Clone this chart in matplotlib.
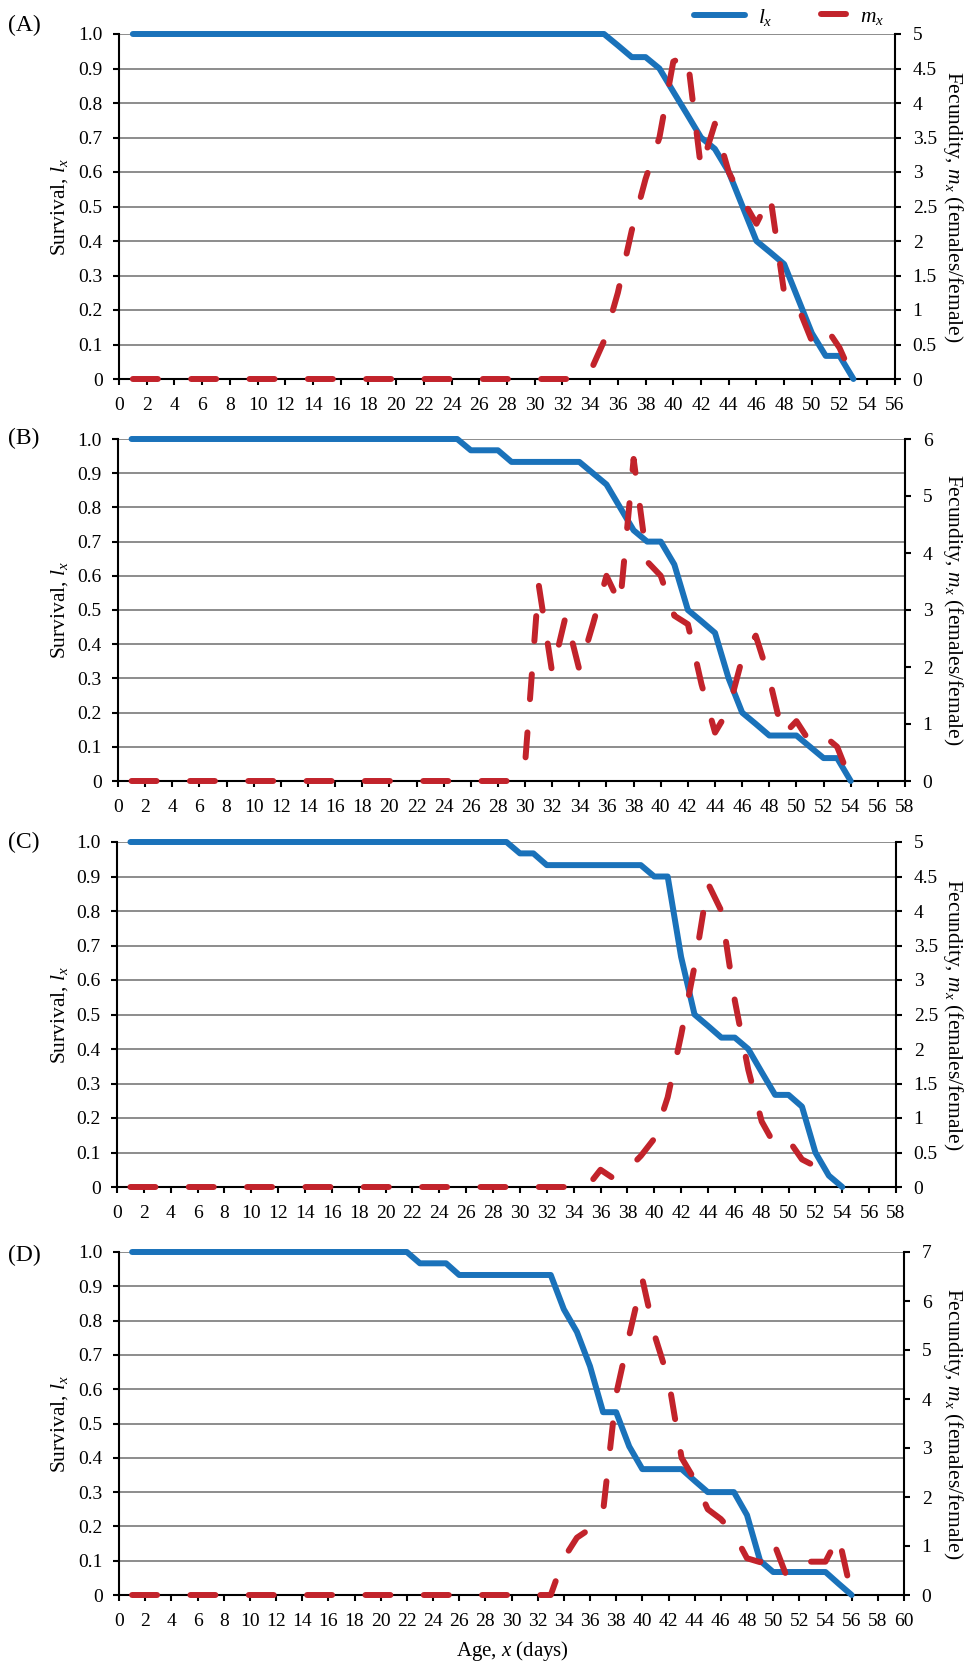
import numpy as np
import matplotlib.pyplot as plt
from matplotlib.lines import Line2D

plt.rcParams['font.family'] = 'Liberation Serif'
plt.rcParams['mathtext.fontset'] = 'custom'
plt.rcParams['mathtext.rm'] = 'Liberation Serif'
plt.rcParams['mathtext.it'] = 'Liberation Serif:italic'
plt.rcParams['lines.scale_dashes'] = False

# ---- data: survival lx (left axis) and fecundity mx (right axis) by age in days
days_a = np.arange(1, 54)
lx_a = [1.0] * 35 + [0.967, 0.933, 0.933, 0.9, 0.833, 0.767, 0.7, 0.667, 0.6, 0.5,
                     0.4, 0.367, 0.333, 0.233, 0.133, 0.067, 0.067, 0.0]
mx_a = [0.0] * 33 + [0.1, 0.55, 1.25, 2.15, 2.9, 3.5, 4.6, 4.7, 3.05, 3.7,
                     3.0, 2.6, 2.25, 2.65, 1.25, 1.05, 0.55, 0.75, 0.45, 0.0]

days_b = np.arange(1, 55)
lx_b = [1.0] * 25 + [0.967] * 3 + [0.933] * 6 + [0.9, 0.867, 0.8, 0.733, 0.7, 0.7, 0.633,
                                                 0.5, 0.467, 0.433, 0.3, 0.2, 0.167, 0.133,
                                                 0.133, 0.133, 0.1, 0.067, 0.067, 0.0]
mx_b = [0.0] * 29 + [0.3, 3.45, 1.9, 2.9, 1.95, 2.75, 3.6, 3.1, 5.65, 3.85, 3.6, 2.9,
                     2.75, 1.7, 0.85, 1.25, 2.15, 2.55, 1.8, 0.8, 1.05, 0.68, 0.8, 0.6, 0.0]

days_c = np.arange(1, 55)
days_c_m = np.arange(1, 54)
lx_c = [1.0] * 29 + [0.967, 0.967] + [0.933] * 8 + [0.9, 0.9, 0.667, 0.5, 0.467, 0.433, 0.433,
                                                    0.4, 0.333, 0.267, 0.267, 0.233, 0.1,
                                                    0.033, 0.0]
mx_c = [0.0] * 35 + [0.25, 0.12, 0.25, 0.45, 0.7, 1.3, 2.2, 3.2, 4.4, 4.0, 2.7, 1.7,
                     0.95, 0.6, 0.68, 0.4, 0.3, 0.0]

days_d = np.arange(1, 57)
lx_d = [1.0] * 22 + [0.967] * 3 + [0.933] * 8 + [0.833, 0.767, 0.667, 0.533, 0.533, 0.433,
                                                0.367, 0.367, 0.367, 0.367, 0.333, 0.3, 0.3,
                                                0.3, 0.233, 0.1, 0.067, 0.067, 0.067, 0.067,
                                                0.067, 0.033, 0.0]
mx_d = [0.0] * 33 + [0.75, 1.17, 1.35, 1.7, 4.1, 5.3, 6.45, 5.25, 4.4, 2.8, 2.35, 1.75,
                     1.55, 1.25, 0.75, 0.67, 1.1, 0.4, 0.68, 0.68, 0.68, 1.2, 0.0]

lx_ticks = np.round(np.arange(0, 1.01, 0.1), 1)
lx_ticklabels = ['0', '0.1', '0.2', '0.3', '0.4', '0.5', '0.6', '0.7', '0.8', '0.9', '1.0']

# (label, lx days, lx, mx days, mx, x max, mx max, mx step, box in px: left, right, top, bottom, label y)
panels = [
    ('(A)', days_a, lx_a, days_a, mx_a, 56, 5, 0.5, (119, 895, 34, 379), 25),
    ('(B)', days_b, lx_b, days_b, mx_b, 58, 6, 1, (118, 905, 439, 781), 438),
    ('(C)', days_c, lx_c, days_c_m, mx_c, 58, 5, 0.5, (117, 896, 842, 1187), 842),
    ('(D)', days_d, lx_d, days_d, mx_d, 60, 7, 1, (119, 904, 1252, 1595), 1255),
]

W, H = 968, 1664
blue = '#1a72ba'
red = '#c2232b'
lw = 4.3
dash = (18, 24)

fig = plt.figure(figsize=(W / 100, H / 100), dpi=100)

for name, dl, lx, dm, mx, xmax, mmax, mstep, (l, r, t, b), ly in panels:
    ax = fig.add_axes([l / W, 1 - b / H, (r - l) / W, (b - t) / H])
    ax2 = ax.twinx()

    ax.set_xlim(0, xmax)
    ax.set_ylim(0, 1)
    ax2.set_ylim(0, mmax)

    ax.grid(axis='y', color='#888888', lw=1.35)
    ax.set_axisbelow(True)

    ax.plot(dl, lx, color=blue, lw=lw, solid_capstyle='round',
            solid_joinstyle='round', clip_on=False, zorder=3)
    ax2.plot(dm, mx, color=red, lw=lw, dashes=dash, dash_capstyle='round',
             dash_joinstyle='round', clip_on=False, zorder=3)

    ax.set_xticks(range(0, xmax + 1, 2))
    ax.set_yticks(lx_ticks)
    ax.set_yticklabels(lx_ticklabels)
    mt = np.arange(0, mmax + 0.01, mstep)
    ax2.set_yticks(mt)
    ax2.set_yticklabels([f'{v:g}' for v in mt])

    for s in ['top', 'right']:
        ax.spines[s].set_visible(False)
    for s in ['top', 'left', 'bottom']:
        ax2.spines[s].set_visible(False)
    ax.spines['left'].set_linewidth(1.5)
    ax.spines['bottom'].set_linewidth(1.5)
    ax2.spines['right'].set_linewidth(1.5)

    ax.tick_params(axis='x', direction='out', length=4.5, width=1.5, pad=8.5, labelsize=14)
    ax.tick_params(axis='y', direction='out', length=4.5, width=1.5, pad=7.3, labelsize=14)
    ax2.tick_params(axis='y', direction='out', length=4.5, width=1.5, pad=8.2, labelsize=14)

    yc = 1 - (t + b) / 2 / H
    fig.text(60 / W, yc, r'Survival, $l_x$', rotation=90, ha='center', va='center', fontsize=15.5)
    fig.text(953 / W, yc, r'Fecundity, $m_x$ (females/female)', rotation=270,
             ha='center', va='center', fontsize=15.5)
    fig.text(8 / W, 1 - ly / H, name, ha='left', va='center', fontsize=17)

fig.text(512 / W, 1 - 1651 / H, r'Age, $x$ (days)', ha='center', va='center', fontsize=15)

# legend at the top right of panel A
h_l = Line2D([], [], color=blue, lw=lw, solid_capstyle='round')
h_m = Line2D([], [], color=red, lw=lw, dashes=dash, dash_capstyle='round')
fig.legend([h_l], [r'$l_x$'], loc='center left', bbox_to_anchor=(694 / W, 1 - 17 / H),
           frameon=False, handlelength=2.35, handletextpad=0.6, borderpad=0,
           borderaxespad=0, fontsize=15.5)
fig.legend([h_m], [r'$m_x$'], loc='center left', bbox_to_anchor=(821 / W, 1 - 17 / H),
           frameon=False, handlelength=1.2, handletextpad=0.6, borderpad=0,
           borderaxespad=0, fontsize=15.5)

fig.savefig('out.png', dpi=100)
